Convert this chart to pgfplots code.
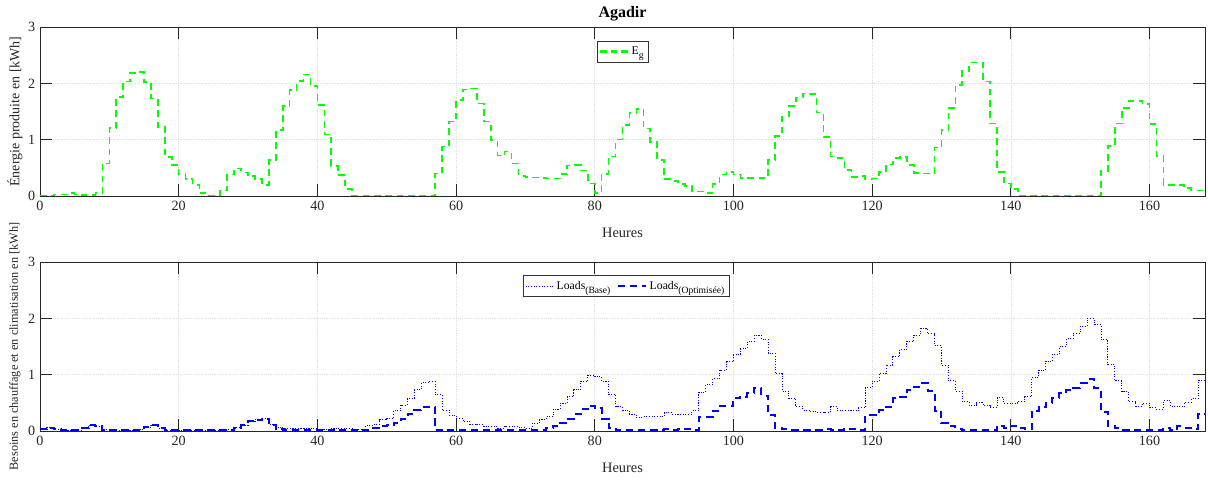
\documentclass[border=0pt]{standalone}
\usepackage{pgfplots}
\pgfplotsset{compat=1.18}
\usepackage{pgfplotstable}
\usepackage{fontspec}
\setmainfont{Liberation Serif}
\definecolor{mygreen}{rgb}{0,1,0}
\newcommand{\sub}[1]{\raisebox{-3pt}{\fontsize{7.2}{8}\selectfont #1}}

\pgfplotstableread{
h eg base opt
0 0 0.03 0.03
1 0 0.06 0.06
2 0.03 0.03 0.03
3 0.03 0.01 0.01
4 0.05 0.01 0.01
5 0.03 0.01 0.01
6 0.02 0.05 0.05
7 0.02 0.1 0.1
8 0.05 0.08 0.08
9 0.58 0.02 0.02
10 1.21 0.01 0.01
11 1.76 0.01 0.01
12 2.03 0.01 0.01
13 2.18 0.01 0.01
14 2.2 0.02 0.02
15 2.02 0.07 0.07
16 1.73 0.1 0.1
17 1.23 0.05 0.05
18 0.69 0.01 0.01
19 0.55 0.01 0.01
20 0.39 0.01 0.01
21 0.3 0.01 0.01
22 0.2 0.01 0.01
23 0.05 0.01 0.01
24 0 0.01 0.01
25 0 0.01 0.01
26 0.1 0.01 0.01
27 0.38 0.02 0.01
28 0.49 0.06 0.06
29 0.42 0.1 0.1
30 0.35 0.17 0.17
31 0.3 0.2 0.2
32 0.2 0.22 0.22
33 0.64 0.12 0.1
34 1.17 0.07 0.04
35 1.6 0.05 0.01
36 1.88 0.05 0.01
37 2.04 0.05 0.01
38 2.16 0.05 0.01
39 1.95 0.04 0.01
40 1.62 0.03 0.01
41 1.09 0.03 0.01
42 0.53 0.04 0.01
43 0.37 0.05 0.02
44 0.12 0.05 0.02
45 0 0.02 0.01
46 0 0.02 0.01
47 0 0.1 0.02
48 0 0.12 0.05
49 0 0.2 0.08
50 0 0.22 0.1
51 0 0.36 0.14
52 0 0.46 0.21
53 0 0.58 0.3
54 0 0.73 0.37
55 0 0.86 0.43
56 0 0.88 0.43
57 0.4 0.64 0.02
58 0.88 0.37 0.01
59 1.32 0.28 0.01
60 1.7 0.22 0.01
61 1.89 0.17 0.01
62 1.91 0.12 0.01
63 1.64 0.11 0.01
64 1.32 0.08 0.01
65 0.99 0.08 0.01
66 0.72 0.05 0.01
67 0.79 0.08 0.01
68 0.58 0.08 0.01
69 0.36 0.06 0.01
70 0.34 0.05 0.01
71 0.33 0.14 0.02
72 0.32 0.2 0.02
73 0.31 0.25 0.05
74 0.31 0.39 0.09
75 0.39 0.49 0.15
76 0.54 0.61 0.22
77 0.55 0.73 0.3
78 0.45 0.88 0.39
79 0.22 0.99 0.45
80 0.05 0.96 0.4
81 0.39 0.88 0.22
82 0.7 0.65 0.05
83 1.0 0.43 0.02
84 1.26 0.37 0.02
85 1.47 0.3 0.02
86 1.54 0.24 0.02
87 1.2 0.25 0.02
88 0.96 0.25 0.02
89 0.64 0.25 0.02
90 0.3 0.33 0.03
91 0.27 0.3 0.02
92 0.21 0.3 0.03
93 0.18 0.3 0.04
94 0.08 0.36 0.02
95 0.08 0.69 0.25
96 0.05 0.82 0.25
97 0.21 0.93 0.36
98 0.38 1.08 0.44
99 0.43 1.23 0.44
100 0.38 1.35 0.58
101 0.32 1.46 0.61
102 0.32 1.59 0.67
103 0.32 1.7 0.76
104 0.32 1.63 0.63
105 0.64 1.38 0.28
106 1.07 1.02 0.05
107 1.41 0.71 0.03
108 1.6 0.58 0.02
109 1.75 0.43 0.02
110 1.82 0.37 0.02
111 1.81 0.34 0.02
112 1.48 0.33 0.02
113 1.05 0.33 0.03
114 0.7 0.43 0.02
115 0.67 0.36 0.02
116 0.46 0.36 0.04
117 0.34 0.36 0.04
118 0.35 0.41 0.02
119 0.3 0.77 0.28
120 0.31 0.88 0.28
121 0.43 1.02 0.37
122 0.56 1.17 0.43
123 0.67 1.32 0.58
124 0.69 1.45 0.6
125 0.55 1.59 0.73
126 0.41 1.7 0.78
127 0.4 1.82 0.85
128 0.4 1.73 0.71
129 0.86 1.51 0.36
130 1.17 1.17 0.14
131 1.56 0.89 0.08
132 1.97 0.71 0.04
133 2.22 0.52 0.01
134 2.37 0.45 0.01
135 2.37 0.5 0.01
136 2.03 0.45 0.01
137 1.29 0.42 0.01
138 0.43 0.59 0.09
139 0.22 0.49 0.06
140 0.12 0.49 0.09
141 0 0.53 0.05
142 0 0.61 0.03
143 0 0.95 0.36
144 0 1.08 0.43
145 0 1.24 0.5
146 0 1.36 0.59
147 0 1.5 0.67
148 0 1.64 0.73
149 0 1.73 0.77
150 0 1.86 0.85
151 0 2.0 0.92
152 0 1.89 0.76
153 0.44 1.62 0.34
154 0.89 1.18 0.09
155 1.29 0.89 0.05
156 1.56 0.7 0.02
157 1.69 0.52 0.02
158 1.69 0.44 0.02
159 1.63 0.49 0.02
160 1.28 0.41 0.02
161 0.71 0.39 0.02
162 0.2 0.54 0.06
163 0.2 0.44 0.02
164 0.2 0.43 0.08
165 0.14 0.51 0.06
166 0.1 0.57 0.04
167 0.1 0.89 0.31
168 0.1 0.89 0.31
}\data

\pgfplotsset{
  myaxis/.style={
    scale only axis, width=873.75pt, height=126.75pt,
    xmin=0, xmax=168, ymin=0, ymax=3,
    xtick={0,20,...,160}, ytick={0,1,2,3},
    tick align=inside,
    major tick length=8.7pt,
    grid=major,
    major grid style={densely dotted, black!13, line width=0.4pt},
    axis line style={black!85, line width=0.6pt},
    every tick/.style={black!85, line width=0.6pt},
    tick label style={font=\fontsize{10.6}{12}\selectfont, text=black!85},
    /pgf/number format/assume math mode=true,
    xlabel={Heures},
    xlabel style={font=\fontsize{10.8}{12}\selectfont, text=black!85, at={(axis description cs:0.5,0)}, anchor=center, yshift=-27.75pt},
    ylabel style={text=black!85, at={(axis description cs:-0.0215,0.5)}, anchor=center},
    legend style={font=\fontsize{8.8}{10}\selectfont, draw=black!80, fill=white, inner xsep=1.5pt, inner ysep=2.2pt, anchor=center},
    legend image code/.code={\draw[#1] (0pt,0pt) -- (21pt,0pt);},
    legend cell align=left,
  }
}

\begin{document}
\begin{tikzpicture}
\path[use as bounding box] (-30pt,-36pt) rectangle (876pt,323.25pt);

\begin{axis}[myaxis, at={(0pt,0pt)}, anchor=south west,
  ylabel={Besoins en chauffage et en climatisation en [kWh]},
  ylabel style={font=\fontsize{9.2}{12}\selectfont},
  legend columns=2,
  legend style={at={(axis description cs:0.503,0.858)}, /tikz/every even column/.append style={column sep=3pt}}]
\addplot[const plot, draw=blue, line width=0.7pt, dash pattern=on 0.8pt off 1.2pt] table[x=h, y=base] {\data};
\addlegendentry{Loads\sub{(Base)}}
\addplot[const plot, draw=blue, line width=1.5pt, dash pattern=on 5.5pt off 3.5pt] table[x=h, y=opt] {\data};
\addlegendentry{Loads\sub{(Optimisée)}}
\end{axis}

\begin{axis}[myaxis, at={(0pt,176.25pt)}, anchor=south west,
  ylabel={Énergie produite en [kWh]},
  ylabel style={font=\fontsize{10.5}{12}\selectfont},
  title={\textbf{Agadir}},
  title style={font=\fontsize{12}{14}\selectfont, at={(axis description cs:0.5,1)}, anchor=center, yshift=3.75pt},
  legend style={at={(axis description cs:0.5,0.855)}}]
\addlegendimage{color=mygreen, draw=mygreen, line width=1.6pt, dash pattern=on 5pt off 3pt}
\addlegendentry{E\sub{g}}
\addplot[const plot, draw=mygreen, line width=1.2pt, dash pattern=on 5pt off 3.5pt, forget plot] table[x=h, y=eg] {\data};
\end{axis}
\end{tikzpicture}
\end{document}
